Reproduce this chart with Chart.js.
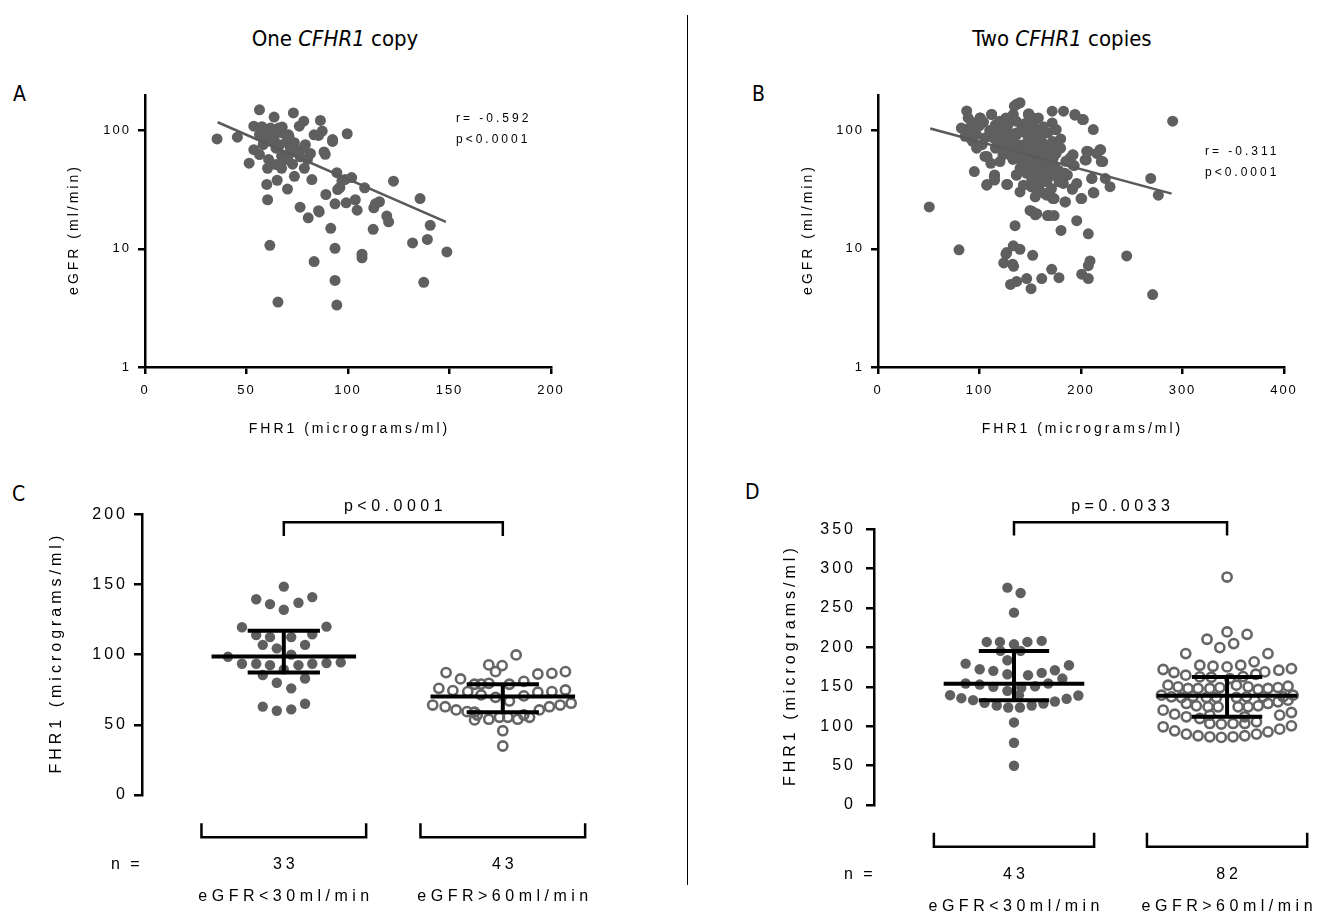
<!DOCTYPE html>
<html><head><meta charset="utf-8">
<script src="https://cdn.jsdelivr.net/npm/chart.js@4.4.1/dist/chart.umd.min.js"></script>
<style>
html,body{margin:0;padding:0;background:#fff}
body{width:1324px;height:922px;position:relative;overflow:hidden;font-family:'Liberation Sans',Arial,sans-serif}
canvas{position:absolute}
.ttl{position:absolute;top:26px;width:670px;text-align:center;font:22px 'DejaVu Sans Condensed','DejaVu Sans',sans-serif;line-height:1.2;color:#000}
.lt{position:absolute;font:21px 'DejaVu Sans Condensed','DejaVu Sans',sans-serif;line-height:1;color:#000}
#divider{position:absolute;left:687px;top:15px;width:1px;height:870px;background:#000}
</style></head><body>
<div class="ttl" style="left:0">One <i>CFHR1</i> copy</div>
<div class="ttl" style="left:727px">Two <i>CFHR1</i> copies</div>
<div id="divider"></div>
<div class="lt" style="left:13px;top:84px">A</div>
<div class="lt" style="left:752px;top:84px">B</div>
<div class="lt" style="left:12px;top:484px">C</div>
<div class="lt" style="left:745px;top:482px">D</div>
<canvas id="cA" width="600" height="370" style="left:0;top:80px"></canvas>
<canvas id="cB" width="594" height="370" style="left:730px;top:80px"></canvas>
<canvas id="cC" width="620" height="450" style="left:0;top:470px"></canvas>
<canvas id="cD" width="594" height="450" style="left:730px;top:470px"></canvas>
<script>
// ---------- DATA ----------
// Panel A: one CFHR1 copy, FHR1 (micrograms/ml) vs eGFR (ml/min)
const fhr1A = [35.5,45.5,51.3,56.4,63.6,73.1,78.2,76,86.4,87.3,83.3,92.4,99.6,88.2,88.8,67.6,53.6,53.6,60,63.6,64.5,60.9,60.4,60,60.4,65.1,70.2,67.3,72.7,73.6,78.5,76.4,72.7,78.2,81.5,70,73.6,82.2,76.4,80.4,85.8,94.5,98.5,101.8,94.9,89.1,93.6,99.1,104.5,108.2,112.7,115.5,119.1,120,122.4,112.4,91.5,135.5,140.5,131.8,139.1,148.7,137.3,106.9,106.9,93.6,83.3,61.5,93.6,65.5,94.5,92.4,56.4,58.2,56.4,67.3,64.5,69.1,61.8,66.4,59,70.9,85.5,96,113.5,58,62,68,71,75,80,79,57.6,65.8,70.7,62.6,71.6,97,103.6,85.5];
const egfrA = [85,88,53,150,130,141,120,109,122,99,92,84,94,66,63,107,109,69,81,87,71,57,48,35,26,38,32,48,52,41,48,60,69,71,64,81,79,38.5,22.5,18.3,20.5,44,38.5,40,31.7,28.8,24,24.5,21.2,32.8,22.2,25,18.9,16.9,37.3,14.6,14.9,26.6,15.8,11.2,12,9.4,5.2,9,8.4,10.1,7.8,10.7,5.4,3.54,3.34,81,92.5,76,62.7,60.7,51.6,57,105,76,100,62.7,91,33,24,86,92,95,88,67,57,76,108,105,92,81,71,37.6,26,21];
const fitAx = [35.8, 148.2];
const fitAy = [117.6, 16.9];
const statsA = ['r= -0.592', 'p<0.0001'];

// Panel B: two CFHR1 copies
const fhr1B = [50.5,79.8,94.9,290.3,268.7,276.2,270.6,245,135,180.3,195.8,207.2,152,155,167,173.5,152.4,
126.1,133.3,139.9,126.8,123.9,132.7,133.6,130.6,136.6,146.5,150.8,161.3,171.1,178.3,200.7,207.2,208.9,207.2,
210.8,212.7,200.7,191.4,184.7,223.9,228.6,220,219.4,215.7,207.1,205.2,192.2,193.3,191.9,204,221.4,218.7,205.6,191.9,212.1,201.5,194,182.8,171.6,174.6,202.3,194.1,175.6,179.9,178.8,172.3,210.5,212.1,200,191.8,184.2,172.3,169,156.4,149.8,
87.4,88.8,85.7,82.1,85.8,90.6,93.3,100.5,100.7,112,111.9,105.2,97.2,105.4,107.5,111.2,114.9,114.6,114.9,107.1,107.5,126.8,127.6,136.2,139.9,141.8,136.6,139.9,134.3,133.3,148.5,148.1,153,153,151.1,123.4,125,126.1,113.6,119.4,132.5,
138,145.5,153,158.6,160.4,153,164.2,166,171.6,175.4,169.8,162.3,154.9,149.3,145.5,149.3,156,158.6,151.1,154.9,164.2,170.9,173.5,178.4,182.8,186.6,167.2,171.6,130.6,123.1,115.7,102.6,97,91.4,115.7,119.4,126.9,136.2,141.8,136.2,145.5,160.4,161.2,189.2,
120.2,126.8,136.6,143.2,153,159.6,166.2,151.4,143.2,156.4,166.2,146.5,136.6,151.4,143.2,156.4,166.2,166.2,130,120.2,172.7,172.3,182.6,195.8,184.2,
140,148,157,163,150,158,162,168,174,147,155,145,130,118,110,100,95,104,92,120,128,160,168,178,140,133,185,180,163,158];
const egfrB = [22.6,9.8,45,120,39.4,28.4,4.1,8.7,15.7,14.3,17.3,13.4,20.7,19.4,19.1,19.1,8.8,
9,10.6,9.9,9.3,7.6,7.4,7.1,5,5.3,5.6,4.6,5.6,6.7,5.7,6.1,5.6,7.9,7.2,
39.4,29.7,26.6,31.9,24.9,39.4,33.5,54.7,68.8,64,66.6,56.5,62.3,50.6,51.2,56.5,54.7,68.9,66.7,62.4,102,124,135,146,146,102,124,137,102,71,71,81,39.4,29.9,26.6,32.4,24.9,26.6,19.1,19.8,21.1,
146.5,128,102,105,89.5,86.7,81,128,128,137,137,86.5,71,60.4,60.4,52.9,42.1,40.7,38.1,34.5,35,35,35,42.1,30.3,54.7,167,172,161,137,139,137,128,112,105,105,105,128,86.7,86.5,83.8,
76,71,81,62,54.7,48,43.5,49.7,58.4,64,76,78.5,68.8,60.4,53,43.5,39.4,32.3,33.4,27.5,29.3,32.3,26.6,36.9,40.7,42,95.5,116,68.8,62.3,71,76,92.5,105,112,95.5,78.5,95.5,105,120,95.5,89.5,102,58.4,
71,86.7,92.5,75.9,83.7,71,62.4,60.4,54.7,51.2,48,43.5,42.1,38.1,34.5,31.3,28.4,36.9,62.4,54.7,58.4,42.1,35.7,35.7,43.5,
65,88,75,66,58,45,56,68,50,50,93,115,95,78,100,110,98,118,118,120,112,38,40,46,48,57,55,85,108,128];
const fitBx = [51.5, 289.2];
const fitBy = [104, 29.3];
const statsB = ['r= -0.311', 'p<0.0001'];

// Panels C/D: groups, counts, labels
const groupLabels = ['eGFR<30ml/min', 'eGFR>60ml/min'];
const nC = ['33', '43'];
const nD = ['43', '82'];
const pC = 'p<0.0001';
const pD = 'p=0.0033';

// Panel C group 1 (filled) values and horizontal offsets (in group units)
const valC1 = [148.5,139.5,141,136,137,132,119.5,120,114,112.5,112.5,114.5,107,107,104.5,98.5,100,93.5,93.5,92.5,92.5,93.5,94,94.5,89.5,85.5,83,80,76,65,63,60,61];
const offC1 = [0,-0.126,0.13,-0.063,0.067,0,-0.191,0.195,-0.126,-0.063,0.034,0.13,-0.096,0.097,-0.032,-0.255,0.034,-0.191,-0.126,-0.063,0.067,0.13,0.195,0.26,0,-0.096,0.097,-0.032,0.034,0.097,-0.096,-0.032,0.034];
// Panel C group 2 (open)
const valC2 = [99.8,92.7,92.2,87.9,87.2,86.2,86.7,87.9,82.7,78.9,79.6,78.9,81,76,74.4,73.7,71.3,69.6,67,70.6,73.2,73.7,74.8,64.1,62.9,60.6,59.4,57,54,55.4,55.4,54,55.4,60.6,62.9,64.1,65.4,53.5,45.8,34.9,59,57,79];
const offC2 = [0.061,-0.064,-0.003,-0.033,-0.259,0.16,0.224,0.286,-0.193,-0.129,-0.064,0.03,0.096,-0.292,-0.228,-0.16,-0.099,-0.033,0.03,0.096,0.16,0.224,0.286,-0.32,-0.263,-0.213,-0.163,-0.117,-0.064,-0.015,0.023,0.068,0.122,0.167,0.213,0.262,0.312,-0.129,0,0,-0.129,0.096,-0.099];
const meanC = [98.6, 70.1];
const upperC = [117.1, 78.9];
const lowerC = [87.2, 58.9];

// Panel D group 1 (filled)
const valD1 = [275.9,269.1,244.2,207,207,204,207,208.3,195.6,183.8,179.5,177.4,172.4,170.3,166,164.8,167.7,171.1,160.5,154.2,152.9,150,144.9,148.7,150.8,154.2,139.4,135.6,133.1,129.7,126.3,123.8,123.8,126.3,128.9,131.4,134.8,139,104.8,79,49.8,195.6,139.4];
const offD1 = [-0.031,0.031,0,-0.128,-0.066,0,0.063,0.13,0.031,-0.031,-0.227,0.258,-0.161,-0.097,-0.031,0.066,0.13,0.192,0.227,-0.227,-0.161,-0.097,-0.031,0.034,0.099,0.161,-0.3,-0.247,-0.192,-0.138,-0.081,-0.027,0.028,0.083,0.138,0.192,0.247,0.302,0,0,0,-0.063,0.023];
// Panel D group 2 (open)
const valD2 = [289.4,219.7,216.7,210.4,204.9,199.8,192.2,192.2,177.4,176.2,175.3,177.4,181.7,172,168.2,164.8,169,171.1,173.2,162.6,162.2,163,166,
152.1,150,147.9,147.9,147.9,149.1,152.1,150,146.6,147.9,149.1,150.8,
139.4,137.3,136.5,137.7,136.5,136.5,136.5,137.3,137.3,139.4,
128.9,125.9,124.6,124.6,124.6,124.6,125.9,128.9,131,133.1,
120.4,115.3,112,109.8,114.1,117.4,114.1,112,
103.5,102.7,103.5,103.5,105.6,
99.3,94.2,90,87.9,86.6,85.8,86.6,87.9,90,92.9,96.3,100.5,160.5,137.3];
const offD2 = [0,0,0.094,-0.094,0.031,-0.034,-0.194,0.192,-0.128,-0.066,0,0.064,0.127,-0.3,-0.249,-0.194,0.177,0.243,0.302,-0.128,-0.074,0.075,0.135,
-0.277,-0.23,-0.183,-0.136,-0.081,-0.034,0.044,0.099,0.146,0.192,0.239,0.286,
-0.308,-0.261,-0.214,-0.16,-0.097,-0.05,0.044,0.091,0.263,0.31,
-0.191,-0.144,-0.089,-0.042,0.052,0.099,0.146,0.192,0.239,0.286,
-0.3,-0.246,-0.191,-0.128,0.247,0.302,-0.081,0.083,
-0.081,-0.027,0.028,0.083,0.138,
-0.3,-0.246,-0.191,-0.136,-0.081,-0.027,0.028,0.083,0.138,0.192,0.247,0.302,0.013,0.169];
const meanD = [153.8, 138.6];
const upperD = [195.6, 162.6];
const lowerD = [133.1, 111.9];

// ---------- STYLE / HELPERS ----------
const DOT = '#5f5f5f';
const FONT = "'Liberation Sans', Arial, sans-serif";

function lsPlugin(px){
  return {id:'ls', beforeLayout(c){c.ctx.letterSpacing = px+'px';}, beforeDraw(c){c.ctx.letterSpacing = px+'px';}};
}
function textPlugin(fn){
  return {id:'texts', afterDraw(chart){
    const ctx = chart.ctx;
    fn(chart).forEach(t=>{
      ctx.save();
      ctx.font = t.font;
      ctx.letterSpacing = (t.ls||0)+'px';
      ctx.fillStyle = '#000';
      ctx.textAlign = t.align || 'center';
      ctx.textBaseline = 'middle';
      ctx.translate(t.x, t.y);
      if (t.rot) ctx.rotate(t.rot);
      const dx = (t.align==='left') ? 0 : (t.ls||0)/2;
      ctx.fillText(t.text, dx, 0);
      ctx.restore();
    });
  }};
}
function pts(xs, ys){ return xs.map((x,i)=>({x:x, y:ys[i]})); }
function seg(data, w){ return {type:'line', data:data, borderColor:'#000', borderWidth:w, pointRadius:0, fill:false, clip:false, borderJoinStyle:'miter', borderCapStyle:'butt', tension:0}; }

function axisCommon(size, tl, pad){
  return {
    ticks:{color:'#000', font:{family:FONT, size:size}, padding:pad},
    grid:{drawOnChartArea:false, drawTicks:true, tickLength:tl, color:'#000', lineWidth:2.5, tickWidth:2.5},
    border:{display:true, color:'#000', width:2.5}
  };
}

function scatterChart(id, xs, ys, fx, fy, xmax, xstep, yW, padR, stats, statsX, yTitleX){
  const xa = axisCommon(13, 7, 9);
  const ya = axisCommon(13, 7, 7);
  return new Chart(document.getElementById(id), {
    type:'scatter',
    data:{datasets:[
      {type:'line', data:pts(fx, fy), borderColor:'#5a5a5a', borderWidth:2.5, pointRadius:0, fill:false},
      {data:pts(xs, ys), pointRadius:5.5, pointHoverRadius:5.5, backgroundColor:DOT, borderWidth:0}
    ]},
    options:{
      responsive:false, animation:false, events:[],
      plugins:{legend:{display:false}, tooltip:{enabled:false}},
      layout:{padding:{left:0, top:15, right:padR, bottom:0}},
      scales:{
        x:Object.assign(xa, {type:'linear', min:0, max:xmax, ticks:Object.assign(xa.ticks,{stepSize:xstep}), afterFit(s){s.height = 83;}}),
        y:Object.assign(ya, {type:'logarithmic', min:1, max:200,
          afterBuildTicks(s){ s.ticks = [1,10,100].map(v=>({value:v})); },
          ticks:Object.assign(ya.ticks,{callback:v=>String(v)}),
          afterFit(s){s.width = yW;}})
      }
    },
    plugins:[lsPlugin(2), textPlugin(c=>{
      const a = c.chartArea;
      return [
        {text:'eGFR (ml/min)', x:yTitleX, y:(a.top+a.bottom)/2, rot:-Math.PI/2, font:'14px '+FONT, ls:3},
        {text:'FHR1 (micrograms/ml)', x:(a.left+a.right)/2, y:349, font:'14px '+FONT, ls:3},
        {text:stats[0], x:statsX[0], y:statsX[1], align:'left', font:'12px '+FONT, ls:3},
        {text:stats[1], x:statsX[0], y:statsX[1]+21, align:'left', font:'12px '+FONT, ls:3}
      ];
    })]
  });
}

scatterChart('cA', fhr1A, egfrA, fitAx, fitAy, 200, 50, 145, 49, statsA, [456, 39], 74);
scatterChart('cB', fhr1B, egfrB, fitBx, fitBy, 400, 100, 148, 40, statsB, [475, 72], 78);

function dotChart(id, v1, o1, v2, o2, mean, up, lo, ymax, xmin, xmax, yW, padT, padB, padR, pTxt, pY, pTick, brY, brH, ns, nY, lblY, nX, yTitleX, ticksPad){
  const ya = axisCommon(16, 8, ticksPad);
  const ds = [];
  for (let g=0; g<2; g++){
    const c = g+1;
    ds.push(seg([{x:c-0.33,y:mean[g]},{x:c+0.33,y:mean[g]}], 4));
    ds.push(seg([{x:c-0.165,y:up[g]},{x:c+0.165,y:up[g]}], 4));
    ds.push(seg([{x:c-0.165,y:lo[g]},{x:c+0.165,y:lo[g]}], 4));
    ds.push(seg([{x:c,y:lo[g]},{x:c,y:up[g]}], 4));
    ds.push(seg([{x:c-0.376,y:brY},{x:c-0.376,y:brY-brH},{x:c+0.376,y:brY-brH},{x:c+0.376,y:brY}], 2.5));
  }
  ds.push(seg([{x:1,y:pTick},{x:1,y:pY},{x:2,y:pY},{x:2,y:pTick}], 2.5));
  ds.push({data:v1.map((v,i)=>({x:1+o1[i], y:v})), pointRadius:5.2, pointHoverRadius:5.2, backgroundColor:DOT, borderWidth:0, clip:false});
  ds.push({data:v2.map((v,i)=>({x:2+o2[i], y:v})), pointRadius:4.6, pointHoverRadius:4.6, backgroundColor:'rgba(0,0,0,0)', borderColor:'#666', borderWidth:2.6, clip:false});
  return new Chart(document.getElementById(id), {
    type:'scatter',
    data:{datasets:ds},
    options:{
      responsive:false, animation:false, events:[],
      plugins:{legend:{display:false}, tooltip:{enabled:false}},
      layout:{padding:{left:0, top:padT, right:padR, bottom:padB}},
      scales:{
        x:{type:'linear', display:false, min:xmin, max:xmax},
        y:Object.assign(ya, {type:'linear', min:0, max:ymax, ticks:Object.assign(ya.ticks,{stepSize:50}), afterFit(s){s.width = yW;}})
      }
    },
    plugins:[lsPlugin(3), textPlugin(c=>{
      const a = c.chartArea, xs = c.scales.x, ys = c.scales.y;
      const f = '16px '+FONT;
      return [
        {text:'FHR1 (micrograms/ml)', x:yTitleX, y:(a.top+a.bottom)/2, rot:-Math.PI/2, font:f, ls:4},
        {text:pTxt, x:xs.getPixelForValue(1.5), y:ys.getPixelForValue(pY)-16, font:f, ls:4.5},
        {text:'n =', x:nX, y:nY, align:'left', font:f, ls:3},
        {text:ns[0], x:xs.getPixelForValue(1), y:nY, font:f, ls:4},
        {text:ns[1], x:xs.getPixelForValue(2), y:nY, font:f, ls:4},
        {text:groupLabels[0], x:xs.getPixelForValue(1), y:lblY, font:f, ls:4.5},
        {text:groupLabels[1], x:xs.getPixelForValue(2), y:lblY, font:f, ls:4.5}
      ];
    })]
  });
}

dotChart('cC', valC1, offC1, valC2, offC2, meanC, upperC, lowerC, 200, 0.3525, 2.4895, 142, 44.3, 125, 10,
  pC, 194.4, 184.6, -20.2, 9.9, nC, 395, 427, 111, 57, 6);
dotChart('cD', valD1, offD1, valD2, offD2, meanD, upperD, lowerD, 350, 0.343, 2.408, 144, 59.3, 115, 10,
  pD, 359, 342, -35.1, 17.8, nD, 405, 437, 114, 61, 10);
</script>
</body></html>
